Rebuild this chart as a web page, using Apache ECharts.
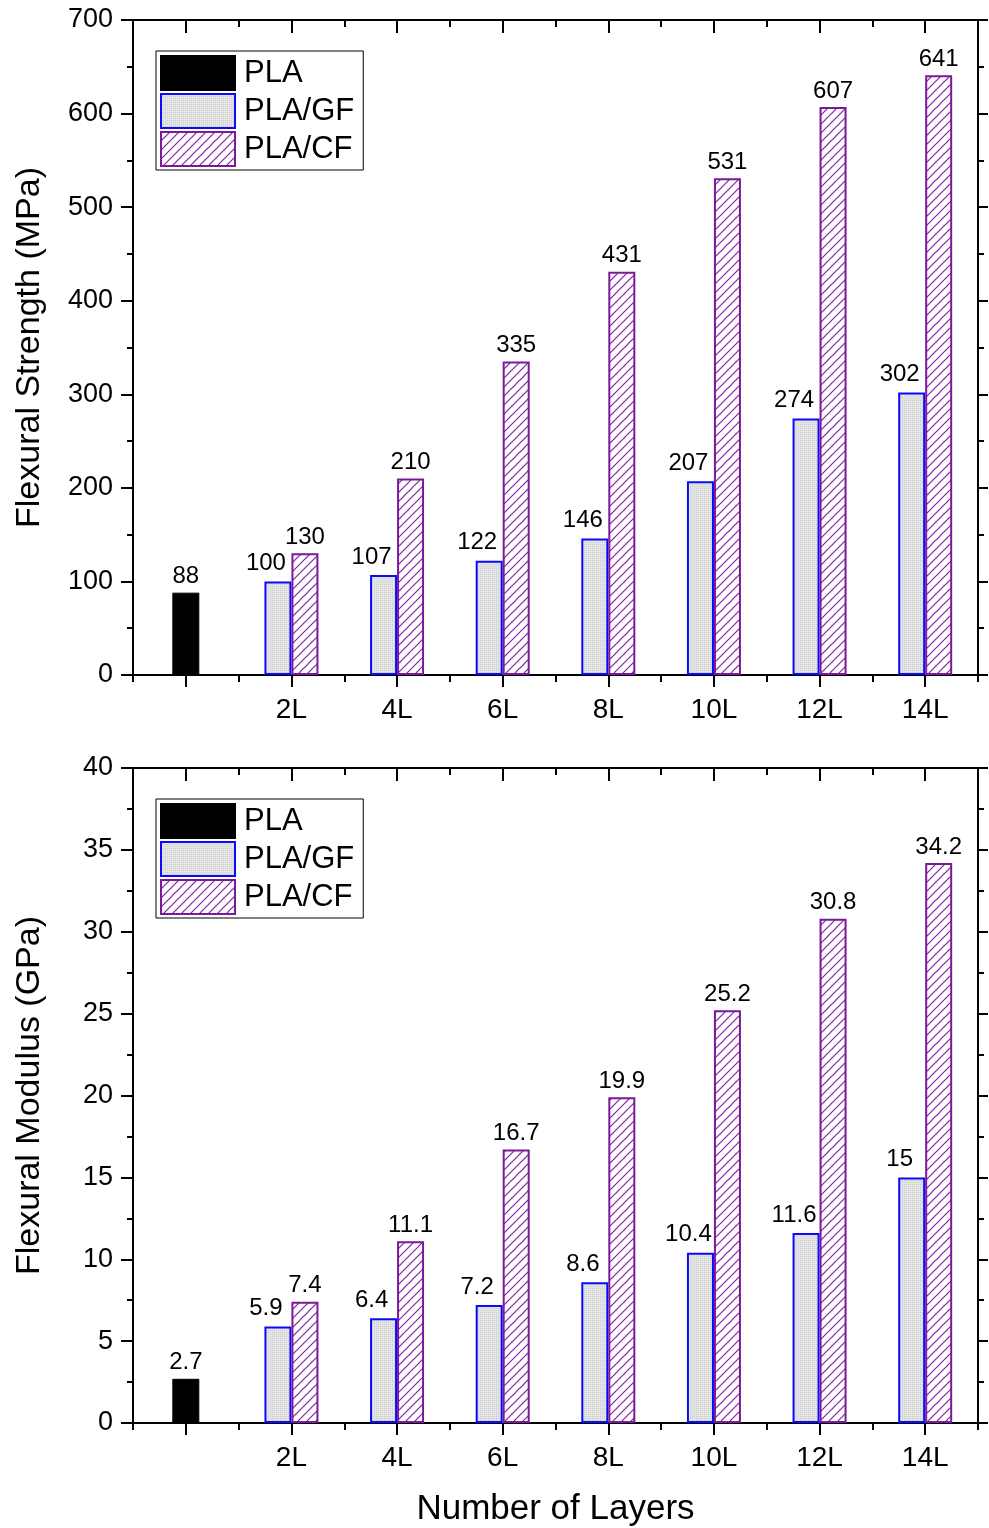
<!DOCTYPE html>
<html>
<head>
<meta charset="utf-8">
<script src="https://cdn.jsdelivr.net/npm/echarts@6/dist/echarts.min.js"></script>
<style>
html,body{margin:0;padding:0;background:#fff;}
#chart{width:989px;height:1528px;}
</style>
</head>
<body>
<div id="chart"></div>
<script>
// ---- data ----
var categories = ['', '2L', '4L', '6L', '8L', '10L', '12L', '14L'];
var seriesNames = ['PLA', 'PLA/GF', 'PLA/CF'];
var strengthPLA = [88];
var strengthGF = [100, 107, 122, 146, 207, 274, 302];
var strengthCF = [130, 210, 335, 431, 531, 607, 641];
var modulusPLA = [2.7];
var modulusGF = [5.9, 6.4, 7.2, 8.6, 10.4, 11.6, 15];
var modulusCF = [7.4, 11.1, 16.7, 19.9, 25.2, 30.8, 34.2];
var strengthTicks = {min: 0, max: 700, interval: 100};
var modulusTicks = {min: 0, max: 40, interval: 5};
var yTitles = ['Flexural Strength (MPa)', 'Flexural Modulus (GPa)'];
var xTitle = 'Number of Layers';

// ---- patterns ----
function makeDots() {
  var c = document.createElement('canvas');
  c.width = 4; c.height = 4;
  var g = c.getContext('2d');
  g.fillStyle = '#e4e4e4'; g.fillRect(0, 0, 4, 4);
  g.fillStyle = '#c8c8c8';
  g.fillRect(0, 0, 1, 1); g.fillRect(2, 2, 1, 1);
  g.fillStyle = '#d6d6d6';
  g.fillRect(2, 0, 1, 1); g.fillRect(0, 2, 1, 1);
  return c;
}
function makeHatch() {
  var s = 9;
  var c = document.createElement('canvas');
  c.width = s; c.height = s;
  var g = c.getContext('2d');
  g.fillStyle = '#ffffff'; g.fillRect(0, 0, s, s);
  g.strokeStyle = '#8020a8'; g.lineWidth = 1.2;
  g.beginPath();
  g.moveTo(-1, s + 1); g.lineTo(s + 1, -1);
  g.moveTo(-1, 1); g.lineTo(1, -1);
  g.moveTo(s - 1, s + 1); g.lineTo(s + 1, s - 1);
  g.stroke();
  return c;
}
var dotFill = {image: makeDots(), repeat: 'repeat'};
var hatchFill = {image: makeHatch(), repeat: 'repeat'};

var FONT = '"Liberation Sans", Arial, sans-serif';
var grids = [
  {left: 133, right: 11, top: 20, height: 655},
  {left: 133, right: 11, top: 768, height: 655}
];

var xAxes = [], yAxes = [], series = [], legends = [];
var panels = [
  {pla: strengthPLA, gf: strengthGF, cf: strengthCF, ticks: strengthTicks, legendTop: 51},
  {pla: modulusPLA, gf: modulusGF, cf: modulusCF, ticks: modulusTicks, legendTop: 799}
];
var lineStyle = {color: '#000', width: 2};

panels.forEach(function (p, gi) {
  var base = xAxes.length;
  // bottom: labels + major ticks at centres
  xAxes.push({
    type: 'category', gridIndex: gi, position: 'bottom', data: categories,
    axisLine: {show: true, lineStyle: lineStyle, onZero: false},
    axisTick: {show: true, alignWithLabel: true, interval: 0, length: 12, lineStyle: lineStyle},
    axisLabel: {show: true, interval: 0, margin: 21, fontSize: 28, color: '#000', fontFamily: FONT},
    name: gi === 1 ? xTitle : '', nameLocation: 'middle', nameGap: 69,
    nameTextStyle: {fontSize: 35, color: '#000', fontFamily: FONT},
    splitLine: {show: false}
  });
  // bottom: minor ticks at boundaries
  xAxes.push({
    type: 'category', gridIndex: gi, position: 'bottom', data: categories,
    axisLine: {show: false, onZero: false},
    axisTick: {show: true, interval: 0, length: 7, lineStyle: lineStyle},
    axisLabel: {show: false}, splitLine: {show: false}
  });
  // top: major ticks inside (also base axis for PLA bars)
  xAxes.push({
    type: 'category', gridIndex: gi, position: 'top', data: categories,
    axisLine: {show: true, lineStyle: lineStyle, onZero: false},
    axisTick: {show: true, inside: true, alignWithLabel: true, interval: 0, length: 13, lineStyle: lineStyle},
    axisLabel: {show: false}, splitLine: {show: false}
  });
  // top: minor ticks inside at boundaries
  xAxes.push({
    type: 'category', gridIndex: gi, position: 'top', data: categories,
    axisLine: {show: false, onZero: false},
    axisTick: {show: true, inside: true, interval: 0, length: 7, lineStyle: lineStyle},
    axisLabel: {show: false}, splitLine: {show: false}
  });
  var ybase = yAxes.length;
  yAxes.push({
    type: 'value', gridIndex: gi, position: 'left',
    min: p.ticks.min, max: p.ticks.max, interval: p.ticks.interval,
    axisLine: {show: true, lineStyle: lineStyle, onZero: false},
    axisTick: {show: true, length: 12, lineStyle: lineStyle},
    minorTick: {show: true, splitNumber: 2, length: 6, lineStyle: {color: '#000', width: 2}},
    axisLabel: {show: true, margin: 20, fontSize: 27, color: '#000', fontFamily: FONT},
    splitLine: {show: false}, minorSplitLine: {show: false},
    name: yTitles[gi], nameLocation: 'middle', nameGap: 86,
    nameTextStyle: {fontSize: 34, color: '#000', fontFamily: FONT}
  });
  yAxes.push({
    type: 'value', gridIndex: gi, position: 'right',
    min: p.ticks.min, max: p.ticks.max, interval: p.ticks.interval,
    axisLine: {show: true, lineStyle: lineStyle, onZero: false},
    axisTick: {show: true, length: 10, lineStyle: lineStyle},
    minorTick: {show: true, splitNumber: 2, length: 6, lineStyle: {color: '#000', width: 2}},
    axisLabel: {show: false},
    splitLine: {show: false}, minorSplitLine: {show: false}
  });
  var labelBase = {show: true, position: 'top', fontSize: 24, color: '#000', fontFamily: FONT, distance: 4};
  series.push({
    name: seriesNames[0], type: 'bar', xAxisIndex: base + 2, yAxisIndex: ybase,
    barWidth: 27,
    data: categories.map(function (c, i) { return i === 0 ? p.pla[0] : null; }),
    itemStyle: {color: '#000', borderColor: '#000', borderWidth: 1},
    label: labelBase
  });
  series.push({
    name: seriesNames[1], type: 'bar', xAxisIndex: base, yAxisIndex: ybase,
    barWidth: 27, barGap: '0%',
    data: [null].concat(p.gf),
    itemStyle: {color: dotFill, borderColor: '#0a0aff', borderWidth: 2},
    label: Object.assign({}, labelBase, {offset: [-12, -2]})
  });
  series.push({
    name: seriesNames[2], type: 'bar', xAxisIndex: base, yAxisIndex: ybase,
    barWidth: 27, barGap: '0%',
    data: [null].concat(p.cf),
    itemStyle: {color: hatchFill, borderColor: '#7a1a98', borderWidth: 2},
    label: labelBase
  });
  legends.push({
    show: true, left: 156, top: p.legendTop, orient: 'vertical',
    data: seriesNames, icon: 'rect',
    itemWidth: 74, itemHeight: 34, itemGap: 2,
    padding: [4, 9, 3, 4],
    borderColor: '#000', borderWidth: 1, backgroundColor: '#fff',
    selectedMode: false,
    textStyle: {fontSize: 31, lineHeight: 34, color: '#000', fontFamily: FONT, padding: [0, 0, 0, 4]}
  });
});

var chart = echarts.init(document.getElementById('chart'), null, {renderer: 'canvas'});
chart.setOption({
  animation: false,
  backgroundColor: '#fff',
  grid: grids,
  xAxis: xAxes,
  yAxis: yAxes,
  legend: legends,
  series: series
});
</script>
</body>
</html>
